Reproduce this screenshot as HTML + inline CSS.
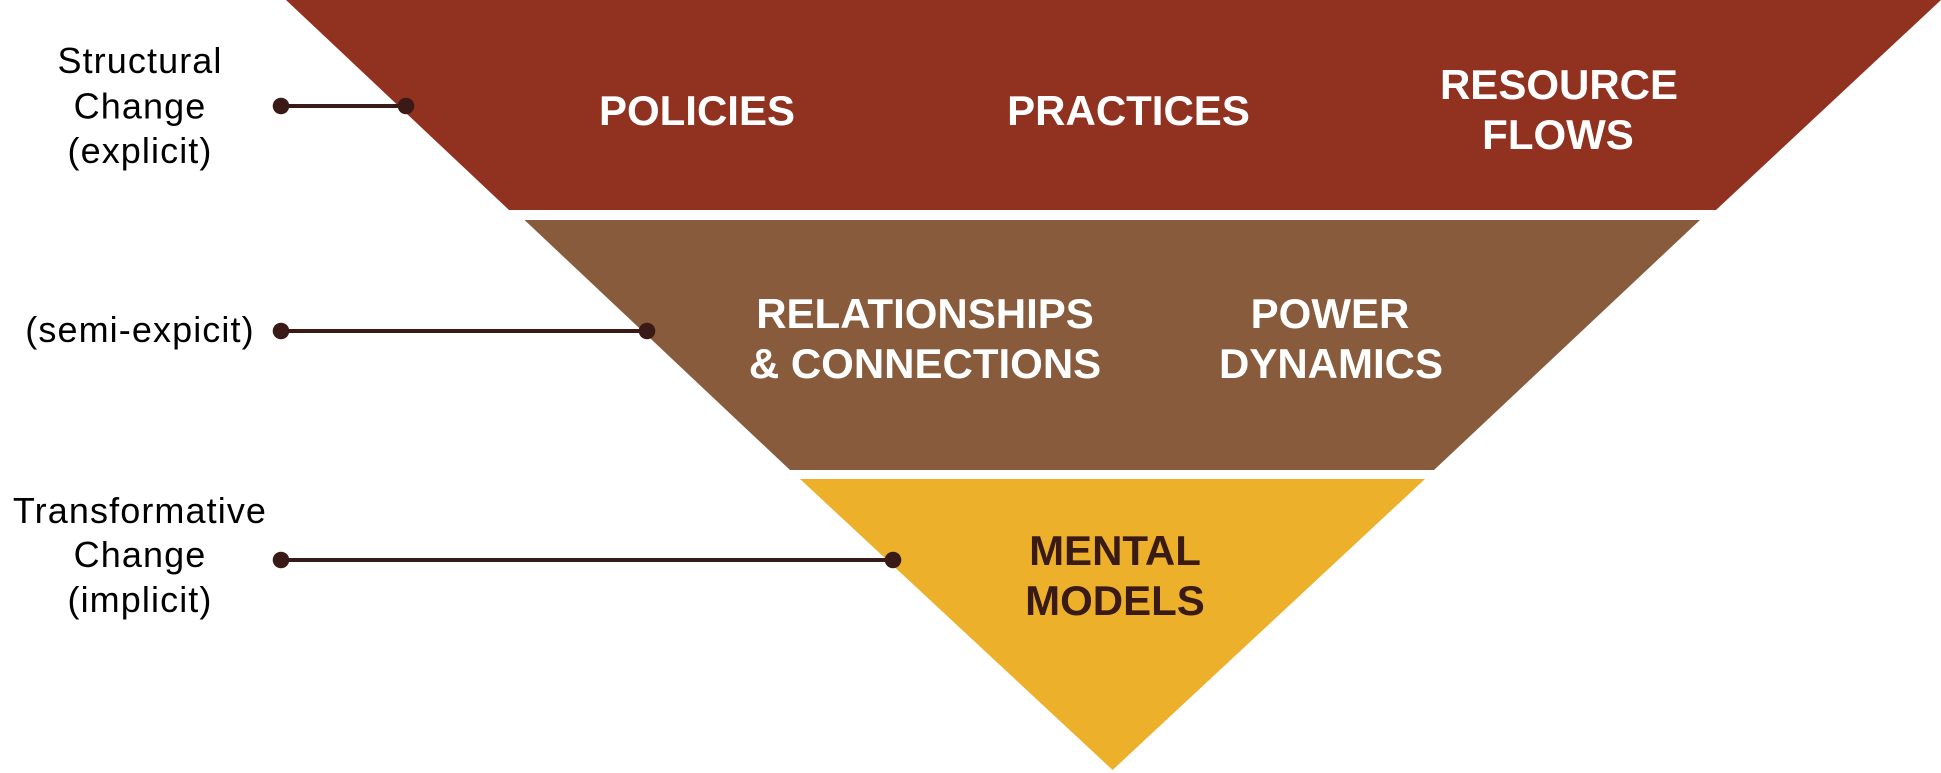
<!DOCTYPE html>
<html>
<head>
<meta charset="utf-8">
<style>
  html, body { margin: 0; padding: 0; background: #ffffff; }
  body { width: 1941px; height: 773px; overflow: hidden; }
  svg { display: block; }
  .h { font-family: "Liberation Sans", sans-serif; font-weight: bold; font-size: 42px; text-anchor: middle; }
  .l { font-family: "Liberation Sans", sans-serif; font-size: 36px; letter-spacing: 1.1px; text-anchor: middle; fill: #000; }
</style>
</head>
<body>
<svg width="1941" height="773" viewBox="0 0 1941 773" xmlns="http://www.w3.org/2000/svg">
  <!-- funnel layers -->
  <polygon points="286,0 1941,0 1716,210 509,210" fill="#913120"/>
  <polygon points="524.5,220 1700,220 1434,470 790,470" fill="#875b3b"/>
  <polygon points="800,479 1425,479 1112.6,770" fill="#ecb02a"/>

  <!-- layer labels -->
  <text class="h" x="697" y="125" fill="#ffffff">POLICIES</text>
  <text class="h" x="1128.5" y="125" fill="#ffffff">PRACTICES</text>
  <text class="h" x="1559" y="99" fill="#ffffff">RESOURCE</text>
  <text class="h" x="1558" y="149" fill="#ffffff">FLOWS</text>

  <text class="h" x="925" y="328" fill="#ffffff">RELATIONSHIPS</text>
  <text class="h" x="925" y="378" fill="#ffffff">&amp; CONNECTIONS</text>
  <text class="h" x="1330" y="328" fill="#ffffff">POWER</text>
  <text class="h" x="1331" y="378" fill="#ffffff">DYNAMICS</text>

  <text class="h" x="1115" y="565" fill="#3a1a14">MENTAL</text>
  <text class="h" x="1115" y="615" fill="#3a1a14">MODELS</text>

  <!-- connectors -->
  <g fill="#3a1a16" stroke="#3a1a16">
    <line x1="281" y1="106" x2="406" y2="106" stroke-width="4"/>
    <circle cx="281" cy="106" r="8.3" stroke="none"/>
    <circle cx="406" cy="106" r="8.3" stroke="none"/>

    <line x1="281" y1="331" x2="647" y2="331" stroke-width="4"/>
    <circle cx="281" cy="331" r="8.3" stroke="none"/>
    <circle cx="647" cy="331" r="8.3" stroke="none"/>

    <line x1="281" y1="560" x2="893" y2="560" stroke-width="4"/>
    <circle cx="281" cy="560" r="8.3" stroke="none"/>
    <circle cx="893" cy="560" r="8.3" stroke="none"/>
  </g>

  <!-- side labels -->
  <text class="l" x="140" y="73">Structural</text>
  <text class="l" x="140" y="118.5">Change</text>
  <text class="l" x="140" y="163">(explicit)</text>

  <text class="l" x="140" y="342">(semi-expicit)</text>

  <text class="l" x="140" y="523">Transformative</text>
  <text class="l" x="140" y="567">Change</text>
  <text class="l" x="140" y="612">(implicit)</text>
</svg>
</body>
</html>
